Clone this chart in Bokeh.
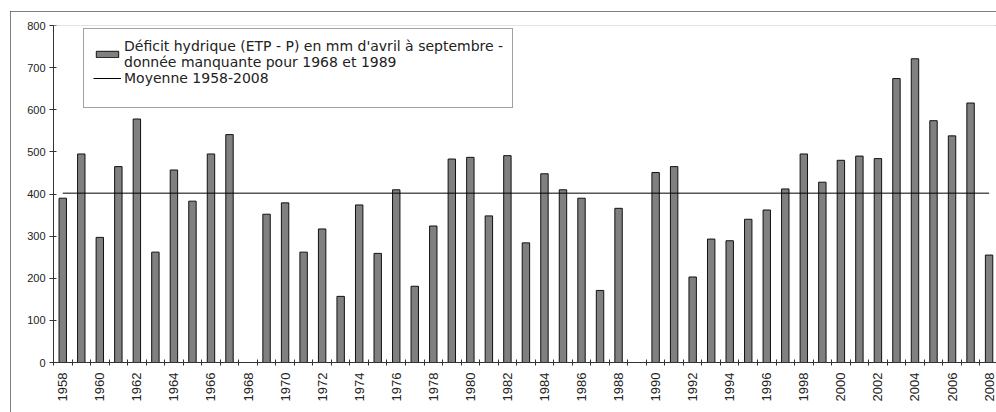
import math
from bokeh.plotting import figure
from bokeh.models import Range1d, FixedTicker, Legend, LegendItem, Span
from bokeh.embed import file_html
from bokeh.resources import INLINE

# ---- data ----
years = [1958, 1959, 1960, 1961, 1962, 1963, 1964, 1965, 1966, 1967,
         1969, 1970, 1971, 1972, 1973, 1974, 1975, 1976, 1977, 1978,
         1979, 1980, 1981, 1982, 1983, 1984, 1985, 1986, 1987, 1988,
         1990, 1991, 1992, 1993, 1994, 1995, 1996, 1997, 1998, 1999,
         2000, 2001, 2002, 2003, 2004, 2005, 2006, 2007, 2008]
deficit = [390, 495, 297, 465, 578, 262, 457, 383, 495, 541,
           352, 379, 262, 317, 157, 374, 259, 410, 181, 324,
           483, 487, 348, 491, 284, 448, 410, 390, 171, 366,
           451, 465, 203, 293, 289, 340, 362, 412, 495, 428,
           480, 490, 484, 674, 721, 574, 538, 616, 255]
mean_period = [1958, 2008]
mean_value = 402
y_ticks = [0, 100, 200, 300, 400, 500, 600, 700, 800]
x_label_years = list(range(1958, 2009, 2))
category_bounds = [y + 0.5 for y in range(1957, 2009)]

label_bars = ("Déficit hydrique (ETP - P) en mm d'avril à septembre -\n"
              "donnée manquante pour 1968 et 1989")
label_mean = "Moyenne 1958-2008"

FONT = "Liberation Sans"

p = figure(width=986, height=401, output_backend="svg", toolbar_location=None,
           x_range=Range1d(1957.5, 2008.4), y_range=Range1d(0, 800),
           min_border_left=43, min_border_right=0, min_border_top=14,
           min_border_bottom=50)
p.styles = {"outline": "1px solid #555", "outline-offset": "-1px",
            "margin-left": "10px", "margin-top": "11px"}
p.outline_line_color = None
p.xgrid.visible = False
p.ygrid.visible = False
p.background_fill_color = "white"
p.border_fill_color = "white"

bars = p.vbar(x=years, top=deficit, width=0.4, fill_color="#808080",
              line_color="#111111", line_width=1)
mean_line = p.line(mean_period, [mean_value, mean_value], line_color="#000000",
                   line_width=1)
dummy = p.scatter([], [], alpha=0)

p.add_layout(Span(location=800, dimension="width", line_color="#c8c8c8",
                  line_width=1))

# y axis
yax = p.yaxis[0]
yax.ticker = FixedTicker(ticks=y_ticks)
yax.major_tick_in = 3
yax.major_tick_out = 4
yax.minor_tick_line_color = None
yax.axis_line_color = "#333333"
yax.major_tick_line_color = "#333333"
yax.major_label_text_font = FONT
yax.major_label_text_font_size = "11px"
yax.major_label_text_color = "#222222"
yax.major_label_standoff = 4

# x axis
xax = p.xaxis[0]
xax.ticker = FixedTicker(ticks=x_label_years, minor_ticks=category_bounds)
xax.major_tick_line_color = None
xax.minor_tick_in = 3
xax.minor_tick_out = 3
xax.minor_tick_line_color = "#333333"
xax.axis_line_color = "#333333"
xax.major_label_orientation = math.pi / 2
xax.major_label_text_font = FONT
xax.major_label_text_font_size = "13px"
xax.major_label_text_color = "#222222"
xax.major_label_standoff = 4

legend = Legend(items=[LegendItem(label=label_bars, renderers=[bars]),
                       LegendItem(label=label_mean, renderers=[mean_line]),
                       LegendItem(label=" \n ", renderers=[dummy])],
                location=(30, 254))
legend.border_line_color = "#444444"
legend.border_line_width = 1
legend.background_fill_color = "white"
legend.background_fill_alpha = 1
legend.padding = 9
legend.spacing = 0
legend.margin = 0
legend.label_standoff = 3
legend.glyph_width = 28
legend.glyph_height = 8
legend.label_height = 12
legend.label_text_font = "DejaVu Sans"
legend.label_text_font_size = "14px"
legend.label_text_line_height = 0.9
legend.label_text_color = "#222222"
p.add_layout(legend)

open("out.html", "w").write(file_html(p, INLINE))
